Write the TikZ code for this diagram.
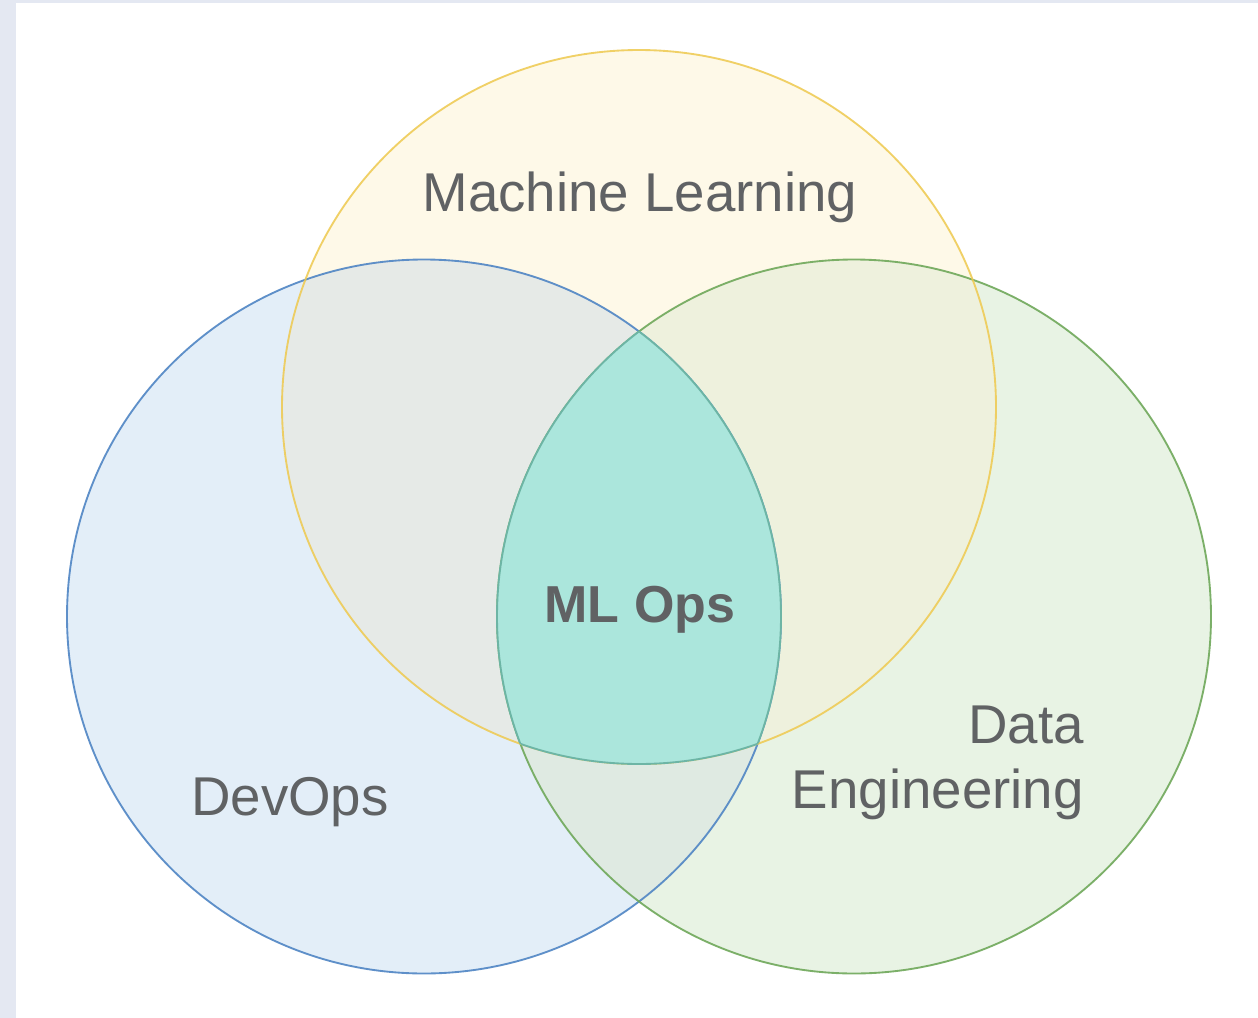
\documentclass[tikz,border=0pt]{standalone}
\usepackage{fontspec}
\setmainfont{Liberation Sans}
\definecolor{bgcol}{HTML}{E4E8F2}
\definecolor{bluefill}{HTML}{E3EEF8}
\definecolor{greenfill}{HTML}{E8F3E4}
\definecolor{yellowfill}{HTML}{FEF9E8}
\definecolor{byfill}{HTML}{E6EAE7}
\definecolor{ygfill}{HTML}{EEF1DD}
\definecolor{bgfill}{HTML}{DFEAE2}
\definecolor{bluestroke}{HTML}{4F85C4}
\definecolor{greenstroke}{HTML}{6FA85A}
\definecolor{yellowstroke}{HTML}{EEC94E}
\definecolor{tealfill}{HTML}{ABE6DC}
\definecolor{tealstroke}{HTML}{6DB5A5}
\definecolor{txtgray}{HTML}{606264}
\begin{document}
\begin{tikzpicture}[x=0.75pt,y=-0.75pt,
  ring/.style={line width=1.4pt},
  lbl/.style={text=txtgray, font=\fontsize{41}{49}\selectfont, inner sep=0pt}]
\def\Bc{(424,616.5) circle (267.75pt)}
\def\Gc{(854,616.5) circle (267.75pt)}
\def\Yc{(639,407) circle (267.75pt)}
\fill[bgcol] (0,0) rectangle (1258,1018);
\fill[white] (16,3) rectangle (1258,1018);
\useasboundingbox (0,0) rectangle (1258,1018);
% single fills
\fill[bluefill] \Bc;
\fill[greenfill] \Gc;
\fill[yellowfill] \Yc;
% pairwise overlaps
\begin{scope}\clip \Bc; \fill[byfill] \Yc;\end{scope}
\begin{scope}\clip \Yc; \fill[ygfill] \Gc;\end{scope}
\begin{scope}\clip \Bc; \fill[bgfill] \Gc;\end{scope}
% outlines
\draw[ring, bluestroke, draw opacity=0.9] \Bc;
\draw[ring, greenstroke, draw opacity=0.9] \Gc;
\draw[ring, yellowstroke, draw opacity=0.85] \Yc;
% centre region
\begin{scope}
  \clip \Bc; \clip \Gc;
  \fill[tealfill] \Yc;
\end{scope}
\begin{scope}
  \clip \Bc; \clip \Yc;
  \draw[ring, tealstroke] \Gc;
\end{scope}
\begin{scope}
  \clip \Gc; \clip \Yc;
  \draw[ring, tealstroke] \Bc;
\end{scope}
\begin{scope}
  \clip \Bc; \clip \Gc;
  \draw[ring, tealstroke] \Yc;
\end{scope}
% labels
\node[lbl, anchor=base] (ml) at (640,211) {Machine Learning};
\node[lbl, anchor=base] (dev) at (290,815) {DevOps};
\node[lbl, anchor=base east] (data) at (1084,743) {Data};
\node[lbl, anchor=base east] (eng) at (1084,808) {Engineering};
\node[lbl, anchor=base, font=\fontsize{39}{47}\selectfont\bfseries] (mlops) at (640,622) {ML Ops};
\end{tikzpicture}
\end{document}
